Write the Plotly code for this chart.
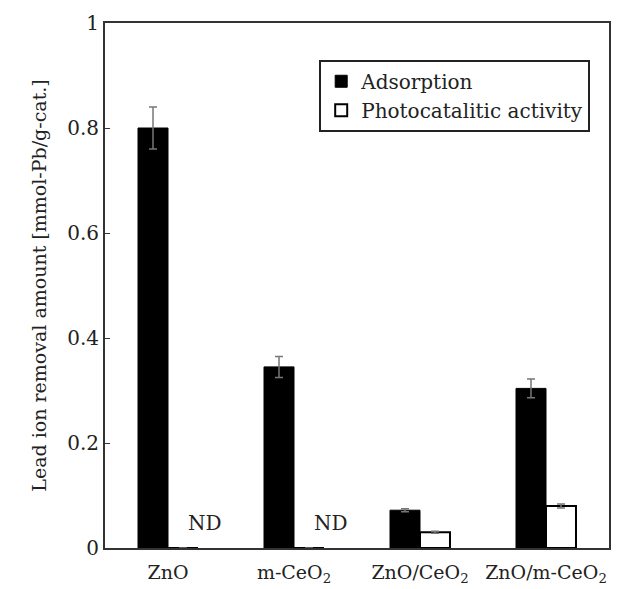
import plotly.graph_objects as go

# Catalysts on the x axis (rich text for subscripts)
catalysts = ["ZnO", "m-CeO<sub>2</sub>", "ZnO/CeO<sub>2</sub>", "ZnO/m-CeO<sub>2</sub>"]

# Lead ion removal amount [mmol-Pb/g-cat.]
adsorption = [0.80, 0.345, 0.072, 0.304]
adsorption_err = [0.040, 0.020, 0.003, 0.018]

# None = not detected (ND)
photocatalytic = [None, None, 0.030, 0.080]
photocatalytic_err = [None, None, 0.002, 0.004]

y_ticks = [0, 0.2, 0.4, 0.6, 0.8, 1]

FONT = "DejaVu Serif"
TXT = "#222222"
ERR_COLOR = "#777777"

fig = go.Figure()

fig.add_trace(go.Bar(
    name="Adsorption",
    x=catalysts,
    y=adsorption,
    marker=dict(color="black", line=dict(color="black", width=1)),
    error_y=dict(type="data", array=adsorption_err, visible=True,
                 color=ERR_COLOR, thickness=1.5, width=4),
    legendgroup="a",
))

fig.add_trace(go.Bar(
    name="Photocatalitic activity",
    x=catalysts,
    y=[v if v is not None else 0 for v in photocatalytic],
    marker=dict(color="white", line=dict(color="black", width=2)),
    error_y=dict(type="data",
                 array=[e if e is not None else 0 for e in photocatalytic_err],
                 visible=True, color=ERR_COLOR, thickness=1.5, width=4),
    legendgroup="b",
))

# "ND" marks for catalysts with no detectable photocatalytic activity
for cat, val in zip(catalysts, photocatalytic):
    if val is None:
        fig.add_annotation(
            x=cat, y=0, xref="x", yref="y",
            text="ND", showarrow=False,
            xshift=37, yshift=25,
            font=dict(family=FONT, size=20, color=TXT),
        )

fig.update_layout(
    width=627, height=589,
    margin=dict(l=105, r=18, t=23, b=41),
    paper_bgcolor="white",
    plot_bgcolor="white",
    barmode="group",
    bargap=0.524,
    bargroupgap=0,
    font=dict(family=FONT, size=20, color=TXT),
    showlegend=True,
    legend=dict(
        x=0.425, y=0.93, xanchor="left", yanchor="top",
        bgcolor="white", bordercolor=TXT, borderwidth=2,
        font=dict(family=FONT, size=20, color=TXT),
        tracegroupgap=10,
        traceorder="normal",
    ),
)

fig.update_xaxes(
    showline=True, linecolor="#333", linewidth=2, mirror=True,
    ticks="", showgrid=False, ticklabelstandoff=6, automargin=False,
    tickfont=dict(family=FONT, size=19, color=TXT),
)

fig.update_yaxes(
    range=[0, 1], tickvals=y_ticks,
    ticktext=[f"{v:g}" for v in y_ticks],
    showline=True, linecolor="#333", linewidth=2, mirror=True,
    ticks="inside", ticklen=5, tickcolor="#333", tickwidth=1,
    showgrid=False, zeroline=False, automargin=False,
    tickfont=dict(family=FONT, size=20, color=TXT),
    title=dict(text="Lead ion removal amount [mmol-Pb/g-cat.]",
               font=dict(family=FONT, size=19, color=TXT), standoff=16),
)

fig.write_html("out.html")
